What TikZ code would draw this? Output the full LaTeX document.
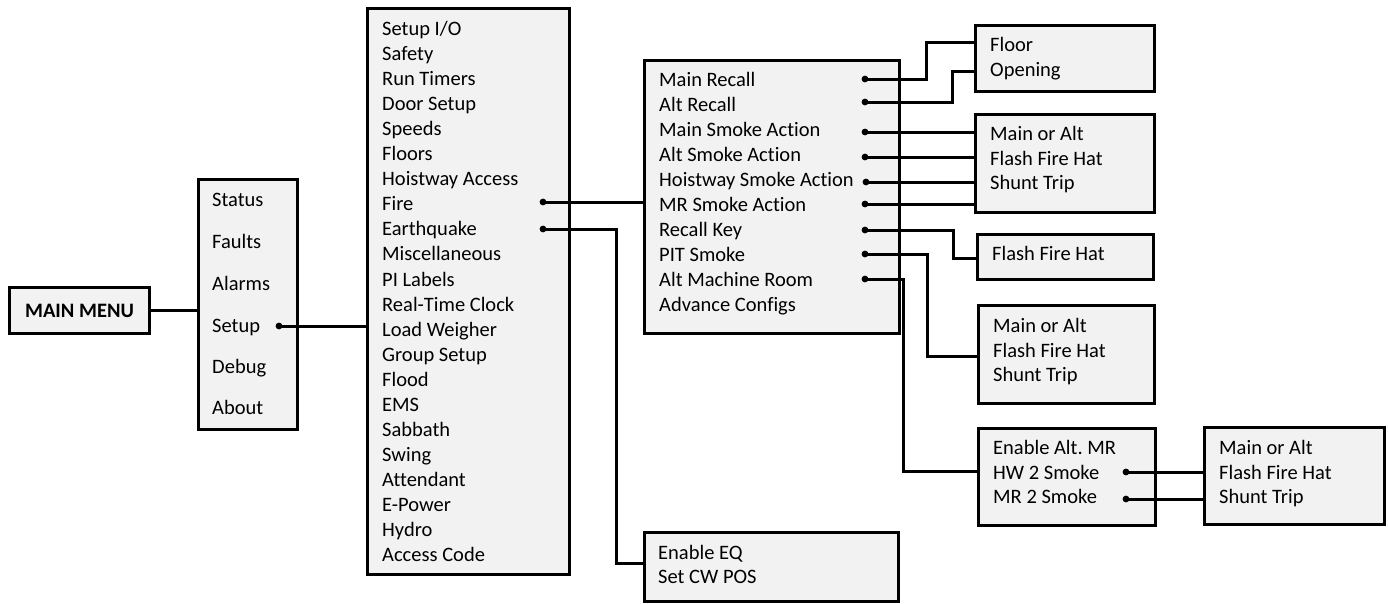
\documentclass[tikz,border=0pt]{standalone}
\usepackage{fontspec}
\setmainfont{Carlito}[Ligatures=NoCommon]
\frenchspacing
\definecolor{boxgray}{HTML}{F2F2F2}
\newcommand\bx[5]{\node[box,anchor=north west,minimum width={#4-#2},minimum height={#5-#3}] (#1) at (#2,#3) {};}
\newcommand\lb[4]{\node[lbl] (#1) at (#2,#3+6.5) {#4};}
\begin{document}
\begin{tikzpicture}[x=1pt,y=-1pt,
  box/.style={draw,line width=3pt,fill=boxgray,rectangle,inner sep=0pt},
  lbl/.style={font=\fontsize{20.5}{21}\selectfont,inner sep=0pt,anchor=base west},
  wire/.style={line width=3pt,line join=miter},
  dotmark/.style={fill=black}]
\useasboundingbox (0,0) rectangle (1388,603);
% boxes
\node[box,anchor=north west,minimum width=140,minimum height=46,font=\fontsize{20.5}{21}\selectfont\bfseries] (mm) at (8,286) {MAIN MENU};
\bx{top}{197}{178}{296}{428}
\bx{setup}{366}{7}{568}{573}
\bx{fire}{643}{59}{898}{332}
\bx{eq}{643}{531}{897}{600}
\bx{floor}{974}{24}{1153}{90}
\bx{moa1}{974}{113}{1153}{211}
\bx{ffh}{976}{233}{1152}{278}
\bx{moa2}{977}{304}{1153}{402}
\bx{altmr}{977}{427}{1154}{524}
\bx{moa3}{1203}{426}{1383}{523}
% top menu
\lb{tStatus}{212}{200}{Status}
\lb{tFaults}{212}{242}{Faults}
\lb{tAlarms}{212}{284}{Alarms}
\lb{tSetup}{212}{326}{Setup}
\lb{tDebug}{212}{367}{Debug}
\lb{tAbout}{212}{408}{About}
% setup menu
\foreach \t [count=\i from 0] in {Setup I/O,Safety,Run Timers,Door Setup,Speeds,Floors,Hoistway Access,Fire,Earthquake,Miscellaneous,PI Labels,Real-Time Clock,Load Weigher,Group Setup,Flood,EMS,Sabbath,Swing,Attendant,E-Power,Hydro,Access Code}
  \node[lbl] (s\i) at (382,29+25.05*\i+6.5) {\t};
% fire menu
\foreach \t [count=\i from 0] in {Main Recall,Alt Recall,Main Smoke Action,Alt Smoke Action,Hoistway Smoke Action,MR Smoke Action,Recall Key,PIT Smoke,Alt Machine Room,Advance Configs}
  \node[lbl] (f\i) at (659,80+25*\i+6.5) {\t};
% sub boxes
\lb{flA}{990}{45}{Floor}
\lb{flB}{990}{70}{Opening}
\lb{m1A}{990}{134}{Main or Alt}
\lb{m1B}{990}{159}{Flash Fire Hat}
\lb{m1C}{990}{183}{Shunt Trip}
\lb{ffA}{992}{254}{Flash Fire Hat}
\lb{m2A}{993}{326}{Main or Alt}
\lb{m2B}{993}{351}{Flash Fire Hat}
\lb{m2C}{993}{375}{Shunt Trip}
\lb{amA}{993}{448}{Enable Alt. MR}
\lb{amB}{993}{473}{HW 2 Smoke}
\lb{amC}{993}{497}{MR 2 Smoke}
\lb{m3A}{1219}{448}{Main or Alt}
\lb{m3B}{1219}{473}{Flash Fire Hat}
\lb{m3C}{1219}{497}{Shunt Trip}
\lb{eqA}{658}{553}{Enable EQ}
\lb{eqB}{658}{577}{Set CW POS}
% dot coordinates
\coordinate (dSetup) at (279,326);
\coordinate (dFire) at (543,202);
\coordinate (dEQ) at (543,229);
\coordinate (d0) at (865,79);
\coordinate (d1) at (865,102);
\coordinate (d2) at (865,132);
\coordinate (d3) at (865,157);
\coordinate (d4) at (866,182);
\coordinate (d5) at (865,204);
\coordinate (d6) at (865,230);
\coordinate (d7) at (865,254);
\coordinate (d8) at (865,279);
\coordinate (dHW) at (1126,472);
\coordinate (dMR) at (1126,499);
% connectors
\draw[wire] (mm.east) -- (mm.east -| top.west);
\draw[wire] (dSetup) -- (dSetup -| setup.west);
\draw[wire] (dFire) -- (dFire -| fire.west);
\draw[wire] (dEQ) -- ++(73,0) |- (eq.west |- 0,563);
\draw[wire] (d0) -- (926,79) |- (floor.west |- 0,42);
\draw[wire] (d1) -- (952,102) |- (floor.west |- 0,71);
\foreach \k in {2,3,4,5} \draw[wire] (d\k) -- (d\k -| moa1.west);
\draw[wire] (d6) -- (953,230) |- (ffh.west |- 0,258);
\draw[wire] (d7) -- (927,254) |- (moa2.west |- 0,356);
\draw[wire] (d8) -- (903,279) |- (altmr.west |- 0,471);
\draw[wire] (dHW) -- (dHW -| moa3.west);
\draw[wire] (dMR) -- (dMR -| moa3.west);
% dots
\foreach \c in {dSetup,dFire,dEQ,d0,d1,d2,d3,d4,d5,d6,d7,d8,dHW,dMR}
  \fill[dotmark] (\c) circle (3.4);
\end{tikzpicture}
\end{document}
